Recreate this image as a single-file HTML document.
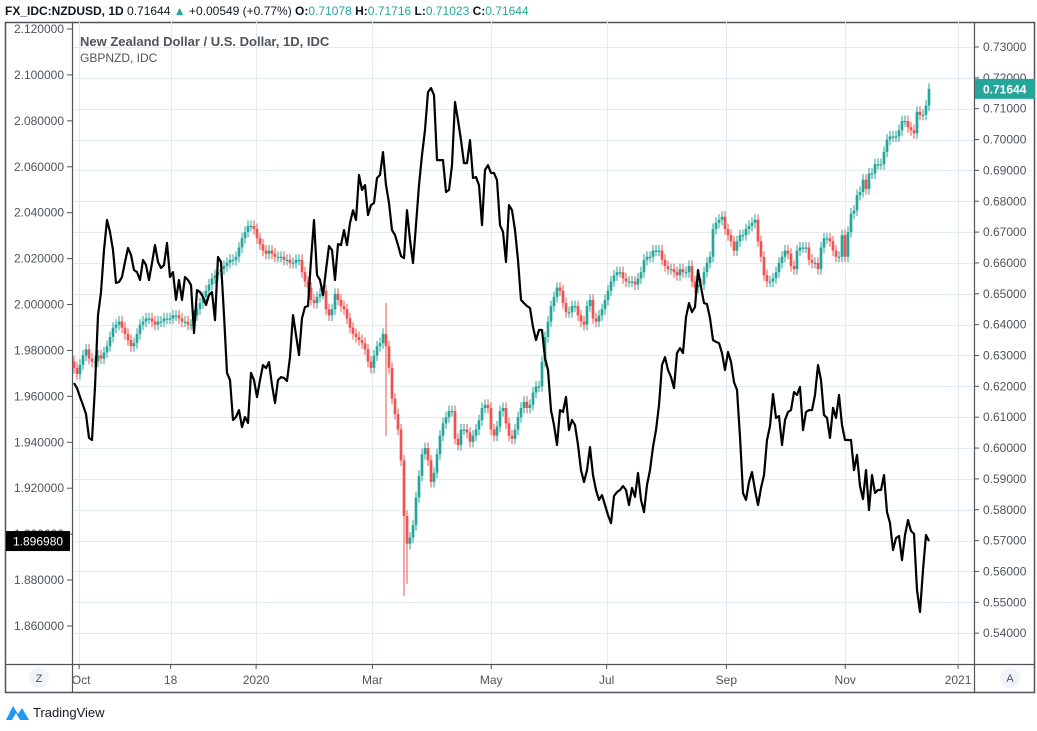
<!DOCTYPE html>
<html><head><meta charset="utf-8"><style>
body{margin:0;background:#fff;width:1037px;height:726px;overflow:hidden;font-family:"Liberation Sans",sans-serif}
svg text{font-family:"Liberation Sans",sans-serif}
</style></head><body>
<svg id="c" width="1037" height="726" xmlns="http://www.w3.org/2000/svg"></svg>
<script>
const timeTicks=["Oct","18","2020","Mar","May","Jul","Sep","Nov","2021"];
const timeTickPos=[0.006,0.113,0.213,0.349,0.488,0.623,0.763,0.902,1.034];
const rightTicks=[0.73,0.72,0.71,0.70,0.69,0.68,0.67,0.66,0.65,0.64,0.63,0.62,0.61,0.60,0.59,0.58,0.57,0.56,0.55,0.54];
const leftTicks=[2.12,2.10,2.08,2.06,2.04,2.02,2.00,1.98,1.96,1.94,1.92,1.90,1.88,1.86];
const nzdClose=[.626,.624,.627,.630,.632,.629,.628,.628,.630,.629,.631,.633,.636,.639,.640,.641,.639,.637,.635,.633,.634,.637,.640,.641,.642,.642,.641,.640,.641,.641,.642,.642,.642,.643,.643,.642,.641,.641,.640,.640,.643,.645,.647,.649,.651,.653,.655,.656,.657,.658,.659,.660,.661,.661,.662,.665,.668,.670,.672,.672,.671,.668,.666,.664,.663,.664,.663,.662,.662,.662,.661,.661,.660,.660,.661,.661,.657,.654,.652,.648,.647,.649,.650,.651,.645,.643,.645,.650,.648,.646,.645,.642,.639,.637,.636,.635,.634,.632,.628,.626,.630,.633,.634,.637,.633,.626,.616,.611,.606,.596,.578,.569,.571,.575,.584,.591,.598,.600,.596,.589,.592,.598,.604,.608,.610,.612,.612,.603,.601,.606,.606,.605,.602,.604,.606,.609,.613,.614,.613,.606,.604,.607,.612,.613,.608,.604,.603,.606,.610,.613,.615,.613,.614,.618,.620,.620,.628,.636,.641,.646,.649,.652,.651,.647,.644,.644,.646,.646,.643,.641,.640,.646,.648,.642,.641,.643,.645,.648,.651,.654,.656,.657,.657,.655,.654,.654,.654,.653,.655,.657,.661,.662,.662,.664,.664,.664,.661,.659,.658,.658,.657,.656,.658,.657,.657,.659,.654,.652,.653,.653,.657,.660,.662,.671,.673,.674,.675,.671,.669,.667,.664,.667,.669,.669,.671,.672,.673,.674,.667,.662,.656,.654,.654,.655,.657,.660,.662,.664,.663,.659,.658,.664,.665,.665,.665,.661,.660,.660,.658,.665,.668,.668,.667,.664,.662,.662,.669,.662,.670,.676,.677,.682,.683,.687,.684,.689,.689,.692,.692,.692,.696,.700,.701,.701,.701,.703,.706,.706,.704,.703,.702,.709,.708,.708,.711,.71644];
const nzdLongWicks=[[104,0.647,0.604],[110,0.571,0.552],[111,0.571,0.556]];
const gbpnzd=[1.9658,1.9636,1.9597,1.9562,1.9523,1.9419,1.9410,1.9641,1.9954,2.0054,2.0237,2.0368,2.0316,2.0237,2.0094,2.0098,2.0120,2.0185,2.0246,2.0216,2.0150,2.0141,2.0107,2.0194,2.0172,2.0107,2.0181,2.0259,2.0185,2.0159,2.0172,2.0268,2.0120,2.0141,2.0020,2.0107,2.0020,2.0120,2.0107,2.0085,1.9876,2.0063,2.0054,2.0033,1.9998,2.0041,2.0054,1.9932,2.0207,2.0185,1.9954,1.9702,1.9671,1.9497,1.9510,1.9540,1.9466,1.9510,1.9484,1.9702,1.9671,1.9597,1.9671,1.9736,1.9723,1.9749,1.9649,1.9571,1.9671,1.9684,1.9680,1.9667,1.9771,1.9954,1.9867,1.9780,1.9941,1.9989,1.9993,2.0194,2.0368,2.0128,2.0107,2.0041,2.0150,2.0255,2.0237,2.0107,2.0263,2.0259,2.0324,2.0259,2.0355,2.0411,2.0368,2.0564,2.0499,2.0520,2.0390,2.0433,2.0442,2.0551,2.0564,2.0664,2.0520,2.0442,2.0324,2.0303,2.0259,2.0211,2.0202,2.0411,2.0281,2.0181,2.0346,2.0520,2.0651,2.0760,2.0925,2.0943,2.0912,2.0629,2.0629,2.0629,2.0490,2.0499,2.0607,2.0882,2.0803,2.0716,2.0616,2.0616,2.0716,2.0551,2.0555,2.0520,2.0346,2.0586,2.0607,2.0573,2.0573,2.0542,2.0346,2.0316,2.0185,2.0433,2.0411,2.0324,2.0194,2.0020,2.0006,1.9993,1.9985,1.9902,1.9845,1.9889,1.9889,1.9767,1.9715,1.9540,1.9475,1.9388,1.9540,1.9532,1.9597,1.9453,1.9497,1.9475,1.9388,1.9279,1.9227,1.9279,1.9379,1.9257,1.9192,1.9149,1.9170,1.9127,1.9083,1.9048,1.9166,1.9183,1.9192,1.9209,1.9192,1.9127,1.9201,1.9162,1.9266,1.9149,1.9096,1.9214,1.9279,1.9379,1.9453,1.9562,1.9736,1.9771,1.9715,1.9684,1.9636,1.9789,1.9810,1.9789,1.9945,2.0006,1.9967,1.9989,2.0150,2.0076,2.0006,2.0002,1.9941,1.9845,1.9837,1.9832,1.9789,1.9715,1.9793,1.9750,1.9662,1.9628,1.9423,1.9179,1.9149,1.9227,1.9270,1.9192,1.9127,1.9201,1.9257,1.9410,1.9471,1.9610,1.9506,1.9514,1.9388,1.9497,1.9532,1.9540,1.9619,1.9606,1.9641,1.9453,1.9532,1.9540,1.9540,1.9606,1.9736,1.9671,1.9519,1.9506,1.9419,1.9550,1.9506,1.9606,1.9475,1.9410,1.9410,1.9410,1.9279,1.9345,1.9209,1.9153,1.9279,1.9105,1.9257,1.9179,1.9192,1.9192,1.9257,1.9096,1.9048,1.8931,1.8983,1.8992,1.8887,1.8996,1.9061,1.9014,1.9001,1.8757,1.8661,1.8844,1.8996,1.89698];

const NS="http://www.w3.org/2000/svg";
const svg=document.getElementById('c');
const PL=72,PR=974,PT=22,PB=664,X0=74,X1=929;
function yR(v){return 47+(0.73-v)*3085;}
function yL(v){return 29+(2.12-v)*2296;}
function xIdx(i,n){return X0+i*(X1-X0)/(n-1);}
function xT(p){return X0+p*(X1-X0)/1.0;}
function el(tag,attrs,parent){const e=document.createElementNS(NS,tag);for(const k in attrs)e.setAttribute(k,attrs[k]);(parent||svg).appendChild(e);return e;}
function txt(s,attrs,parent){const e=el('text',attrs,parent);e.textContent=s;return e;}

const frame=el('rect',{x:5.5,y:22.5,width:1029,height:670,fill:'none',stroke:'#50535e','stroke-width':1.5});


const grid=el('g',{});

rightTicks.forEach(v=>{const y=Math.round(yR(v))+.5;if(y>PT&&y<PB)el('line',{x1:PL,x2:PR,y1:y,y2:y,stroke:'#e1ecf2'},grid);});
timeTickPos.forEach(p=>{const x=Math.round(xT(p))+.5;if(x<PR)el('line',{x1:x,x2:x,y1:PT,y2:PB,stroke:'#e1ecf2'},grid);});

el('line',{x1:PL+.5,x2:PL+.5,y1:PT,y2:693,stroke:'#50535e','stroke-width':1.2});
el('line',{x1:PR+.5,x2:PR+.5,y1:PT,y2:693,stroke:'#50535e','stroke-width':1.2});
el('line',{x1:5,x2:1035,y1:PB+.5,y2:PB+.5,stroke:'#50535e','stroke-width':1.2});

const la=el('g',{});
leftTicks.forEach(v=>{const y=yL(v);
 el('line',{x1:67,x2:72,y1:y,y2:y,stroke:'#50535e'},la);
 const t=txt(v.toFixed(6),{x:64,y:y+4,'font-size':12,fill:'#50535e','text-anchor':'end'},la);
 });
const ra=el('g',{});
rightTicks.forEach(v=>{const y=yR(v);
 el('line',{x1:974,x2:979,y1:y,y2:y,stroke:'#50535e'},ra);
 const t=txt(v.toFixed(5),{x:983,y:y+4,'font-size':12,fill:'#50535e'},ra);
 });
const ta=el('g',{});
timeTicks.forEach((s,i)=>{const x=xT(timeTickPos[i]);
 el('line',{x1:x,x2:x,y1:PB,y2:PB+5,stroke:'#50535e'},ta);
 const t=txt(s,{x:x+(i==0?2:0),y:684,'font-size':12,fill:'#50535e','text-anchor':'middle'},ta);
 });

const cg=el('g',{});
const n=nzdClose.length;
for(let i=0;i<n;i++){
 const o=i?nzdClose[i-1]:0.628,c=nzdClose[i];
 let hi=Math.max(o,c)+0.0018,lo=Math.min(o,c)-0.0018;
 nzdLongWicks.forEach(w=>{if(w[0]===i){hi=Math.max(hi,w[1]);lo=Math.min(lo,w[2]);}});
 const col=c>=o?'#26a69a':'#ef5350';const x=xIdx(i,n);
 const w=el('line',{x1:x,x2:x,y1:yR(hi),y2:yR(lo),stroke:col,'stroke-width':1},cg);
 
 const yt=yR(Math.max(o,c)),yb=yR(Math.min(o,c));
 const b=el('rect',{x:x-1.35,y:yt,width:2.7,height:Math.max(1.2,yb-yt),fill:col},cg);
 
}
const m=gbpnzd.length;let d='';
gbpnzd.forEach((v,i)=>{d+=(i?'L':'M')+xIdx(i,m).toFixed(1)+','+yL(v).toFixed(1);});
const ln=el('path',{d:d,fill:'none',stroke:'#000','stroke-width':2.2,'stroke-linejoin':'round'});


const lastL=gbpnzd[m-1],lastR=nzdClose[n-1];
const lb=el('g',{});
el('rect',{x:6,y:yL(lastL)-10,width:64,height:20,fill:'#000'},lb);
txt(lastL.toFixed(6),{x:13,y:yL(lastL)+4.5,'font-size':12,fill:'#fff'},lb);
const rb=el('g',{});
el('rect',{x:975,y:yR(lastR)-10,width:60,height:20,fill:'#26a69a'},rb);
txt(lastR.toFixed(5),{x:983,y:yR(lastR)+4.5,'font-size':12,'font-weight':'bold',fill:'#fff'},rb);

const lg=el('g',{});
const l1=txt('New Zealand Dollar / U.S. Dollar, 1D, IDC',{x:80,y:46,'font-size':13,'font-weight':'bold',fill:'#50535e'},lg);

const l2=txt('GBPNZD, IDC',{x:80,y:62,'font-size':12,fill:'#50535e'},lg);


const hd=el('text',{x:5,y:15,'font-size':12,fill:'#131722'});

hd.innerHTML='<tspan font-weight="bold">FX_IDC:NZDUSD, 1D</tspan> 0.71644 <tspan fill="#26a69a">▲</tspan> +0.00549 (+0.77%) <tspan font-weight="bold">O:</tspan><tspan fill="#26a69a">0.71078</tspan> <tspan font-weight="bold">H:</tspan><tspan fill="#26a69a">0.71716</tspan> <tspan font-weight="bold">L:</tspan><tspan fill="#26a69a">0.71023</tspan> <tspan font-weight="bold">C:</tspan><tspan fill="#26a69a">0.71644</tspan>';

const zb=el('g',{});
el('circle',{cx:39,cy:678,r:10,fill:'#f0f3fa'},zb);txt('Z',{x:39,y:682,'font-size':11,fill:'#50535e','text-anchor':'middle'},zb);
const ab=el('g',{});
el('circle',{cx:1010,cy:678,r:10,fill:'#f0f3fa'},ab);txt('A',{x:1010,y:682,'font-size':11,fill:'#50535e','text-anchor':'middle'},ab);

const lo=el('g',{});
el('path',{d:'M6 720 L13 706 L18 714 L22 708 L29 720 Z',fill:'#2196f3'},lo);
el('path',{d:'M12 720 L16 713 L20 720 Z',fill:'#fff'},lo);
txt('TradingView',{x:33,y:717,'font-size':13,fill:'#131722'},lo);
</script>
</body></html>
